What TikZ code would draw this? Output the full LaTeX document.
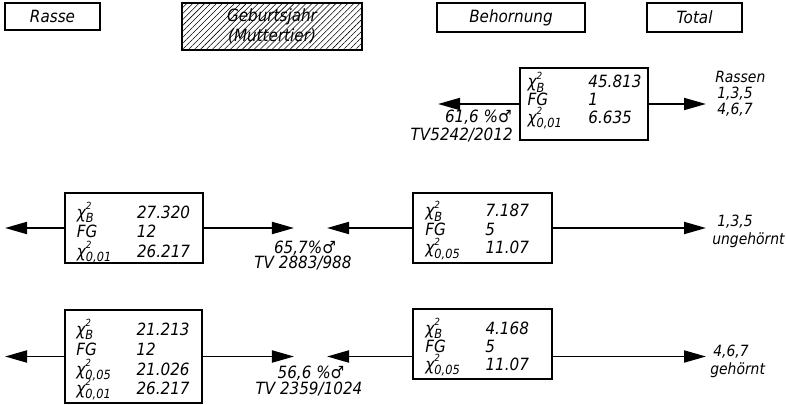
\documentclass[tikz,border=0pt]{standalone}
\usepackage{fontspec}
\setmainfont{DejaVu Sans Condensed}
\usepackage{array}
\usetikzlibrary{arrows.meta,patterns.meta}
\newcommand\chiq[1]{χ\smash{\rlap{\raisebox{0.95ex}{\scriptsize 2}}\raisebox{-0.45ex}{\small #1}}}

\begin{document}
\begin{tikzpicture}[x=0.025cm,y=-0.025cm,
	every node/.style={font=\fontsize{12}{14}\selectfont\itshape, inner sep=0pt},
	side/.style={font=\fontsize{11}{13}\selectfont\itshape},
	head/.style={draw, line width=2pt, align=center},
	statbox/.style={draw, line width=2pt, minimum width=3.45cm, minimum height=1.75cm},
	flow/.style={line width=1.4pt, -{Triangle[length=0.55cm,width=0.3cm]}}]
	\useasboundingbox (0,0) rectangle (786,405);

	\node[head, minimum width=2.375cm, minimum height=0.675cm] (rasse) at (52.5,16.5) {Rasse};
	\node[head, minimum width=4.5cm, minimum height=1.175cm,
		pattern={Lines[angle=45,distance=3pt,line width=0.4pt]}] (geb) at (272,26.5) {Geburtsjahr\\(Muttertier)};
	\node[head, minimum width=3.7cm, minimum height=0.725cm] (behorn) at (511,17.5) {Behornung};
	\node[head, minimum width=2.375cm, minimum height=0.725cm] (total) at (694.5,17.5) {Total};

	\node[statbox, minimum width=3.2cm, text height=0.95cm, text depth=0.85cm] (totbox) at (584,104) {\renewcommand\arraystretch{0.86}%
	\begin{tabular}{@{}p{1.52cm}@{}p{1.3cm}@{}}
		\chiq{B} & 45.813\\
		FG & 1\\
		\chiq{0,01} & 6.635
	\end{tabular}};
	\node[statbox, text height=1.125cm, text depth=0.625cm] (gebA) at (134,228) {\begin{tabular}{@{}p{1.5cm}@{}p{1.35cm}@{}}
		\chiq{B} & 27.320\\
		FG & 12\\
		\chiq{0,01} & 26.217
	\end{tabular}};
	\node[statbox, minimum width=3.475cm, text height=1.075cm, text depth=0.675cm] (behA) at (482.5,228) {\renewcommand\arraystretch{0.94}%
	\begin{tabular}{@{}p{1.5cm}@{}p{1.35cm}@{}}
		\chiq{B} & 7.187\\
		FG & 5\\
		\chiq{0,05} & 11.07
	\end{tabular}};
	\node[statbox, minimum width=3.425cm, text height=1.3875cm, text depth=0.9375cm] (gebB) at (133.5,356.5) {\begin{tabular}{@{}p{1.5cm}@{}p{1.35cm}@{}}
		\chiq{B} & 21.213\\
		FG & 12\\
		\chiq{0,05} & 21.026\\
		\chiq{0,01} & 26.217
	\end{tabular}};
	\node[statbox, minimum width=3.475cm, text height=1.1cm, text depth=0.65cm] (behB) at (482.5,344) {\renewcommand\arraystretch{0.92}%
	\begin{tabular}{@{}p{1.5cm}@{}p{1.35cm}@{}}
		\chiq{B} & 4.168\\
		FG & 5\\
		\chiq{0,05} & 11.07
	\end{tabular}};

	\coordinate (tipTotL) at (438,0);
	\coordinate (tipTotR) at (706,0);
	\coordinate (tipOut) at (5,0);
	\coordinate (tipMidL) at (294,0);
	\coordinate (tipMidR) at (327,0);
	\coordinate (tipEnd) at (706,0);

	\draw[flow] (totbox.west) -- (totbox.west -| tipTotL);
	\draw[flow] (totbox.east) -- (totbox.east -| tipTotR);
	\draw[flow] (gebA.west) -- (gebA.west -| tipOut);
	\draw[flow] (gebA.east) -- (gebA.east -| tipMidL);
	\draw[flow] (behA.west) -- (behA.west -| tipMidR);
	\draw[flow] (behA.east) -- (behA.east -| tipEnd);
	\draw[flow] (gebB.west) -- (gebB.west -| tipOut);
	\draw[flow] (gebB.east) -- (gebB.east -| tipMidL);
	\draw[flow] (behB.west |- gebB.west) -- (tipMidR |- gebB.west);
	\draw[flow] (behB.east |- gebB.east) -- (tipEnd |- gebB.east);

	\node[anchor=east] (pctTot) at (512,117) {61,6 \%♂};
	\node[anchor=east] (tvTot) at (513,135) {TV5242/2012};
	\node[side, anchor=west] (rassen) at (715,77) {Rassen};
	\node[side, anchor=west] (rTot1) at (717,94) {1,3,5};
	\node[side, anchor=west] (rTot2) at (717,110) {4,6,7};

	\node (pctA) at (305,248) {65,7\%♂};
	\node (tvA) at (303,263) {TV 2883/988};
	\node[side, anchor=west] (rA) at (717,222) {1,3,5};
	\node[side, anchor=west] (hornA) at (712,240) {ungehörnt};

	\node (pctB) at (311,373) {56,6 \%♂};
	\node (tvB) at (309,389) {TV 2359/1024};
	\node[side, anchor=west] (rB) at (713,352) {4,6,7};
	\node[side, anchor=west] (hornB) at (710,370) {gehörnt};
\end{tikzpicture}
\end{document}
